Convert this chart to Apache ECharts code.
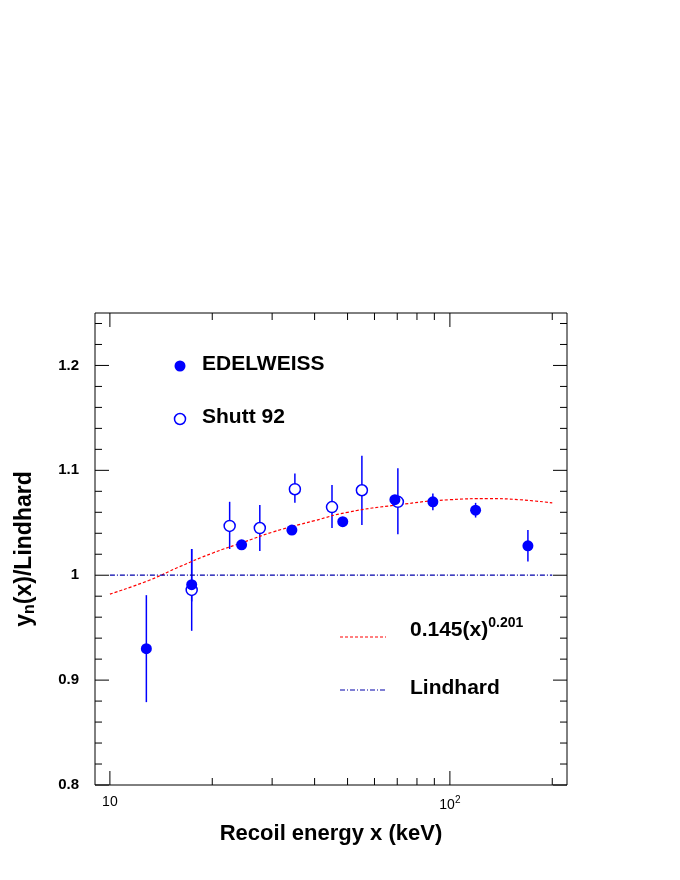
<!DOCTYPE html><html><head><meta charset="utf-8">
<script src="https://cdn.jsdelivr.net/npm/echarts@6/dist/echarts.min.js"></script>
<style>body{margin:0;background:#fff}#c{width:680px;height:880px}</style></head><body><div id="c"></div>
<script>
const edelX=[12.8,17.4,24.4,34.3,48.4,68.9,89.1,119,169.6];
const edelY=[0.930,0.991,1.029,1.043,1.051,1.072,1.070,1.062,1.028];
const edelLo=[0.879,0.975,1.026,1.040,1.048,1.068,1.062,1.055,1.013];
const edelHi=[0.981,1.025,1.032,1.046,1.054,1.076,1.078,1.069,1.043];
const shuttX=[17.4,22.5,27.6,35,45,55.1,70.3];
const shuttY=[0.986,1.047,1.045,1.082,1.065,1.081,1.070];
const shuttLo=[0.947,1.025,1.023,1.069,1.045,1.048,1.039];
const shuttHi=[1.025,1.070,1.067,1.097,1.086,1.114,1.102];
const fitX=[10,13,16,20,25,30,40,50,70,100,130,160,200];
const fitY=[0.982,0.995,1.008,1.021,1.032,1.041,1.052,1.060,1.067,1.072,1.073,1.072,1.069];
const lindX=[10,200];
const lindY=[1,1];
const xMajor=[10,100];
const xMinor=[20,30,40,50,60,70,80,90,200];
const yMajor=[0.8,0.9,1.0,1.1,1.2];
const yMinor=[0.82,0.84,0.86,0.88,0.92,0.94,0.96,0.98,1.02,1.04,1.06,1.08,1.12,1.14,1.16,1.18,1.22,1.24];
const L=Math.log10;
const xMin=L(9.04),xMax=L(221);
const blue='#0000ff';
const F='Liberation Sans, Arial, sans-serif';
function errSeries(xs,lo,hi){return{type:'custom',data:xs.map((x,i)=>[L(x),lo[i],hi[i]]),z:1,
 renderItem:(p,api)=>{const a=api.coord([api.value(0),api.value(1)]),b=api.coord([api.value(0),api.value(2)]);
 return{type:'line',shape:{x1:a[0],y1:a[1],x2:b[0],y2:b[1]},style:{stroke:blue,lineWidth:1.5}};}};}
const ticks={type:'custom',data:[0],silent:true,z:5,renderItem:(p,api)=>{
 const ch=[];const ln=(x1,y1,x2,y2)=>ch.push({type:'line',shape:{x1,y1,x2,y2},style:{stroke:'#000',lineWidth:1}});
 const y0=api.coord([xMin,0.8])[1],y1=api.coord([xMin,1.25])[1];
 const x0=api.coord([xMin,1])[0],x1=api.coord([xMax,1])[0];
 xMajor.forEach(v=>{const x=api.coord([L(v),1])[0];ln(x,y0,x,y0-14);ln(x,y1,x,y1+14);});
 xMinor.forEach(v=>{const x=api.coord([L(v),1])[0];ln(x,y0,x,y0-7);ln(x,y1,x,y1+7);});
 yMajor.forEach(v=>{const y=api.coord([xMin,v])[1];ln(x0,y,x0+14,y);ln(x1,y,x1-14,y);});
 yMinor.forEach(v=>{const y=api.coord([xMin,v])[1];ln(x0,y,x0+7,y);ln(x1,y,x1-7,y);});
 return{type:'group',children:ch};}};
const chart=echarts.init(document.getElementById('c'));
chart.setOption({animation:false,
 grid:{left:95,right:113,top:313,bottom:95,show:true,borderColor:'#000',borderWidth:1},
 xAxis:{type:'value',min:xMin,max:xMax,splitLine:{show:false},axisTick:{show:false},axisLine:{show:false},
  axisLabel:{customValues:[1,2],margin:10,color:'#000',fontFamily:F,fontSize:14,
   formatter:v=>v===1?'10':'{b|10}{s|2}',rich:{b:{fontSize:14,fontFamily:F,color:'#000'},s:{fontSize:10,fontFamily:F,verticalAlign:'top',padding:[0,0,10,0],color:'#000'}}},
  name:'Recoil energy x (keV)',nameLocation:'middle',nameGap:38,nameTextStyle:{fontSize:22,fontWeight:'bold',fontFamily:F,color:'#000'}},
 yAxis:{type:'value',min:0.8,max:1.25,interval:0.1,splitLine:{show:false},axisTick:{show:false},axisLine:{show:false},
  axisLabel:{customValues:yMajor,formatter:v=>v===1?'1':v.toFixed(1),fontSize:15,fontWeight:'bold',fontFamily:F,color:'#000',margin:16},
  name:'{n|y}{sub|n}{n|(x)/Lindhard}',nameLocation:'middle',nameGap:57,nameRotate:90,
  nameTextStyle:{rich:{n:{fontSize:23,fontWeight:'bold',fontFamily:F,color:'#000'},sub:{fontSize:16,fontWeight:'bold',fontFamily:F,color:'#000',verticalAlign:'bottom',padding:[10,0,0,0]}}}},
 series:[
  {type:'line',data:fitX.map((x,i)=>[L(x),fitY[i]]),showSymbol:false,smooth:true,lineStyle:{color:'#ff0000',type:[3,2],width:1.2},z:2},
  {type:'line',data:lindX.map((x,i)=>[L(x),lindY[i]]),showSymbol:false,lineStyle:{color:'#0000aa',type:[5,2,1,2],width:1.2},z:2},
  errSeries(edelX,edelLo,edelHi),errSeries(shuttX,shuttLo,shuttHi),
  {type:'scatter',data:shuttX.map((x,i)=>[L(x),shuttY[i]]),symbol:'circle',symbolSize:11,itemStyle:{color:'#fff',borderColor:blue,borderWidth:1.5,opacity:1},z:3},
  {type:'scatter',data:edelX.map((x,i)=>[L(x),edelY[i]]),symbol:'circle',symbolSize:11,itemStyle:{color:blue,opacity:1},z:4},
  ticks],
 graphic:[
  {type:'circle',shape:{cx:180,cy:366,r:5.5},style:{fill:blue}},
  {type:'text',left:202,top:354,style:{text:'EDELWEISS',font:'bold 21px '+F,fill:'#000'}},
  {type:'circle',shape:{cx:180,cy:419,r:5.5},style:{fill:'#fff',stroke:blue,lineWidth:1.5}},
  {type:'text',left:202,top:407,style:{text:'Shutt 92',font:'bold 21px '+F,fill:'#000'}},
  {type:'line',shape:{x1:340,y1:637,x2:386,y2:637},style:{stroke:'#ff0000',lineDash:[3,2],lineWidth:1.2}},
  {type:'text',left:410,top:616,style:{text:'{a|0.145(x)}{s|0.201}',rich:{a:{font:'bold 21px '+F,fill:'#000'},s:{font:'bold 14px '+F,fill:'#000',verticalAlign:'top',padding:[0,0,14,0]}}}},
  {type:'line',shape:{x1:340,y1:690,x2:386,y2:690},style:{stroke:'#0000aa',lineDash:[5,2,1,2],lineWidth:1.2}},
  {type:'text',left:410,top:678,style:{text:'Lindhard',font:'bold 21px '+F,fill:'#000'}}
 ]});
</script></body></html>
